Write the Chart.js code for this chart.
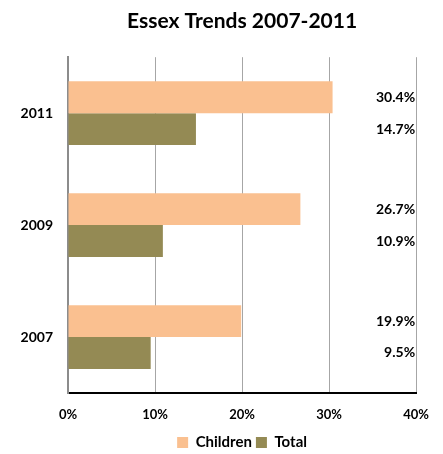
<!DOCTYPE html>
<html>
<head>
<meta charset="utf-8">
<script src="https://cdn.jsdelivr.net/npm/chart.js@4"></script>
<style>
    body { margin: 0; background: #fff; }
    #wrap { width: 443px; height: 454px; }
</style>
</head>
<body>
<div id="wrap"><canvas id="trendChart" width="443" height="454"></canvas></div>
<script>
const years = ['2011', '2009', '2007'];
const childrenValues = [30.4, 26.7, 19.9];
const totalValues = [14.7, 10.9, 9.5];
const xTicks = [0, 10, 20, 30, 40];

const FONT = 'Lato, "Liberation Sans", sans-serif';

// draws the value labels down the right side of the plot
const sideLabels = {
    id: 'sideLabels',
    afterDatasetsDraw(chart) {
        const ctx = chart.ctx;
        const right = chart.chartArea.right - 1;
        ctx.save();
        ctx.font = 'bold 14px ' + FONT;
        ctx.fillStyle = '#000';
        ctx.textAlign = 'right';
        ctx.textBaseline = 'middle';
        chart.data.datasets.forEach((ds, i) => {
            chart.getDatasetMeta(i).data.forEach((bar, j) => {
                ctx.fillText(ds.data[j].toFixed(1) + '%', right, bar.y);
            });
        });
        ctx.restore();
    }
};

new Chart(document.getElementById('trendChart').getContext('2d'), {
    type: 'bar',
    data: {
        labels: years,
        datasets: [{
            label: 'Children',
            data: childrenValues,
            backgroundColor: '#FAC090',
            barPercentage: 1,
            categoryPercentage: 0.57
        }, {
            label: 'Total',
            data: totalValues,
            backgroundColor: '#948A54',
            barPercentage: 1,
            categoryPercentage: 0.57
        }]
    },
    plugins: [sideLabels],
    options: {
        indexAxis: 'y',
        responsive: false,
        animation: false,
        layout: {
            padding: { left: 0, right: 22, top: 0, bottom: -6 }
        },
        scales: {
            x: {
                min: 0,
                max: 40,
                afterBuildTicks: scale => {
                    scale.ticks = xTicks.map(v => ({ value: v }));
                },
                afterFit: scale => { scale.height = 38; },
                grid: { color: '#a6a6a6', lineWidth: 1, drawTicks: false },
                border: { color: '#000', width: 2 },
                ticks: {
                    padding: 14,
                    color: '#000',
                    font: { size: 13, family: FONT, weight: 'bold' },
                    callback: v => v + '%'
                }
            },
            y: {
                afterFit: scale => { scale.width = 68; },
                grid: { display: false, drawTicks: false },
                border: { color: '#8c8c8c', width: 2 },
                ticks: {
                    padding: 15,
                    color: '#000',
                    font: { size: 14, family: FONT, weight: 'bold' }
                }
            }
        },
        plugins: {
            title: {
                display: true,
                fullSize: false,
                text: 'Essex Trends 2007-2011',
                color: '#000',
                font: { size: 21, family: FONT, weight: 'bold' },
                padding: { top: 9, bottom: 23 }
            },
            legend: {
                position: 'bottom',
                fullSize: false,
                labels: {
                    color: '#000',
                    boxWidth: 11,
                    boxHeight: 11,
                    padding: 4,
                    font: { size: 15, family: FONT, weight: 'bold' }
                }
            },
            tooltip: { enabled: false }
        }
    }
});
</script>
</body>
</html>
